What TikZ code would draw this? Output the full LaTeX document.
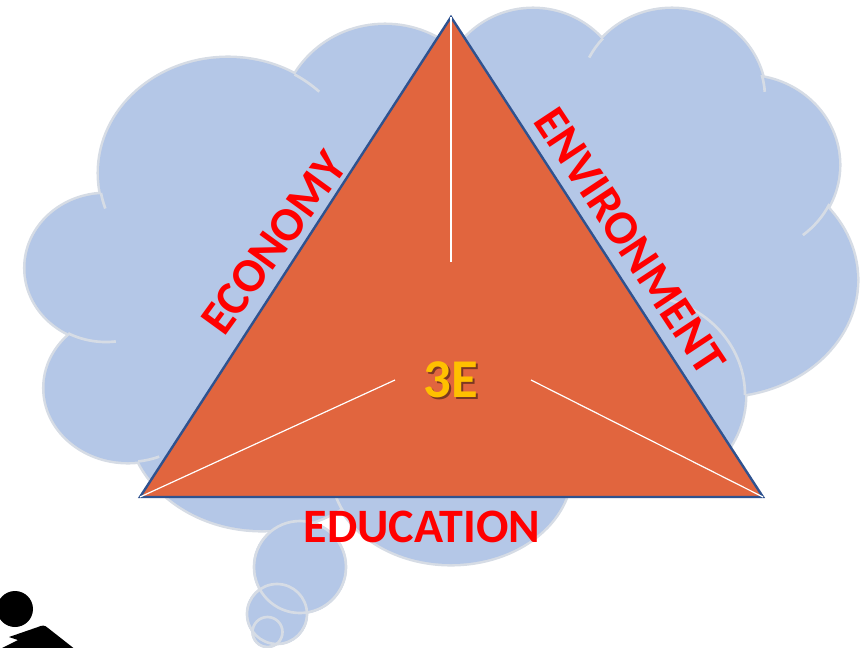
\documentclass[tikz,border=0pt]{standalone}
\usepackage{fontspec}
\setmainfont{Carlito}
\definecolor{cloudfill}{HTML}{B4C7E7}
\definecolor{cloudline}{HTML}{D6DCE5}
\definecolor{triFill}{HTML}{E1653E}
\definecolor{triLine}{HTML}{2F528F}
\definecolor{gold}{HTML}{FFC000}
\newcommand{\earc}[6]{\draw[cloudedge,shift={(#1,#2)}] ({#3*cos(#5)},{#4*sin(#5)}) arc[start angle=#5,end angle=#6,x radius=#3,y radius=#4];}
\newcommand{\cloudblobs}[1]{%
  \path[#1] (228,173) ellipse[x radius=129,y radius=115];
  \path[#1] (385,125) ellipse[x radius=104,y radius=100];
  \path[#1] (106,268) ellipse[x radius=80.5,y radius=74];
  \path[#1] (128,388) ellipse[x radius=83.5,y radius=74];
  \path[#1] (262,417) ellipse[x radius=134,y radius=113];
  \path[#1] (451,470) ellipse[x radius=120,y radius=94];
  \path[#1] (640,395) ellipse[x radius=105,y radius=99];
  \path[#1] (720,280) ellipse[x radius=137,y radius=116];
  \path[#1] (745,165) ellipse[x radius=94,y radius=89];
  \path[#1] (672,98) ellipse[x radius=93,y radius=89];
  \path[#1] (533,102) ellipse[x radius=93,y radius=93];
}
\tikzset{
  cloudedge/.style={draw=cloudline,line width=2pt},
  bubble/.style={draw=cloudline,line width=2pt},
  edgelabel/.style={font=\fontsize{36pt}{36pt}\selectfont\bfseries,text=red,inner sep=0pt},
  whiteline/.style={draw=white,line width=0.9pt},
}
\begin{document}
\begin{tikzpicture}[x=0.75pt,y=-0.75pt]
\useasboundingbox (0,0) rectangle (863,647);
\clip (0,0) rectangle (863,647);
% cloud
\cloudblobs{draw=cloudline,line width=3.8pt}
\cloudblobs{fill=cloudfill}
\fill[cloudfill] (228,172) -- (385,124) -- (533,102) -- (672,98) -- (745,165) -- (720,280) -- (640,395) -- (450,470) -- (262,417) -- (127,388) -- (105,268) -- cycle;
\earc{228}{173}{129}{115}{162}{170}
\earc{228}{173}{129}{115}{-59}{-45}
\earc{106}{268}{80.5}{74}{83}{118}
\earc{128}{388}{83.5}{74}{68}{83}
\earc{451}{470}{120}{94}{150}{163}
\earc{672}{98}{93}{89}{207}{222}
\earc{672}{98}{93}{89}{-15}{-4}
\earc{745}{165}{94}{89}{26}{52}
\earc{640}{395}{105}{99}{-75}{0}
% thought bubbles
\fill[cloudfill] (300,567) circle[radius=47];
\fill[cloudfill] (277,614) circle[radius=31];
\fill[cloudfill] (267.5,632) circle[radius=16];
\draw[bubble] (300,567) circle[radius=46];
\draw[bubble] (277,614) circle[radius=30];
\draw[bubble] (267.5,632) circle[radius=15];
% person
\fill[black] (15,609) circle[radius=18];
\fill[black] (-2,650) -- (18,640) -- (9,637) -- (38,627) .. controls (42,625) and (45,625) .. (48,628) -- (76,650) -- cycle;
% triangle
\coordinate (apex) at (451,17);
\coordinate (left) at (140,497);
\coordinate (right) at (763,497);
\coordinate (innerTop) at (451,262);
\coordinate (innerLeft) at (395,380);
\coordinate (innerRight) at (531,380);
\draw[fill=triFill,draw=triLine,line width=1.8pt,line join=miter] (apex) -- (right) -- (left) -- cycle;
\draw[whiteline] (apex) -- (innerTop);
\draw[whiteline] (left) -- (innerLeft);
\draw[whiteline] (right) -- (innerRight);
% labels
\node[edgelabel,rotate=54] (economy) at (274,243) {ECONOMY};
\node[edgelabel,rotate=-56.5] (environment) at (630,241) {ENVIRONMENT};
\node[edgelabel] (education) at (422,527) {EDUCATION};
\node[inner sep=0pt,font=\fontsize{41pt}{41pt}\selectfont\bfseries,text=black!45!triFill] (shadow) at (452.5,381.5) {3E};
\node[inner sep=0pt,font=\fontsize{41pt}{41pt}\selectfont\bfseries,text=gold] (threeE) at (451,380) {3E};
\end{tikzpicture}
\end{document}
